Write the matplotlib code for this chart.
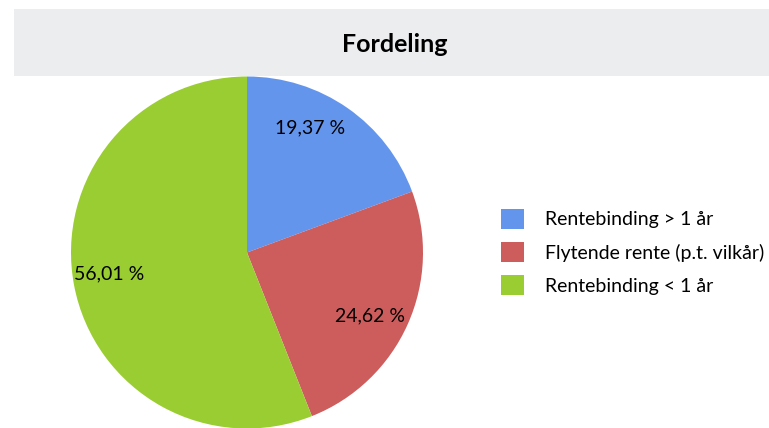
import matplotlib.pyplot as plt
from matplotlib.patches import Rectangle, Patch

categories = ["Rentebinding > 1 år", "Flytende rente (p.t. vilkår)", "Rentebinding < 1 år"]
shares = [19.37, 24.62, 56.01]
colors = ["#6495ED", "#CD5C5C", "#9ACD32"]
title = "Fordeling"

plt.rcParams["font.family"] = ["Lato", "DejaVu Sans"]

W, H = 769, 428
fig = plt.figure(figsize=(W / 100, H / 100), dpi=100)

# grey title band
fig.patches.append(Rectangle((14 / W, 1 - 76 / H), 1, 67 / H, transform=fig.transFigure,
                             facecolor="#ECEDEF", edgecolor="none", zorder=0))
fig.text(395 / W, 1 - 45 / H, title, ha="center", va="center",
         fontsize=18, fontweight="bold")

# pie: centre (247, 252.5) px, radius 176 px
cx, cy, r = 247, 252.5, 176
ax = fig.add_axes([(cx - r) / W, (H - cy - r) / H, 2 * r / W, 2 * r / H])
wedges, _, autotexts = ax.pie(
    shares, colors=colors, startangle=90, counterclock=False,
    autopct=lambda p: f"{p:.2f} %".replace(".", ","), pctdistance=0.8,
    textprops=dict(fontsize=14),
)
# small nudges to sit where the original labels are
nudges = [(-0.1, 0.05), (-0.03, -0.034), (0.0, 0.027)]
for t, (dx, dy) in zip(autotexts, nudges):
    x, y = t.get_position()
    t.set_position((x + dx, y + dy))
ax.set_xlim(-1, 1)
ax.set_ylim(-1, 1)
ax.set_aspect("equal")
ax.axis("off")

handles = [Patch(facecolor=c, edgecolor="none") for c in colors]
fig.legend(handles, categories, loc="upper left",
           bbox_to_anchor=(501 / W, 1 - 209 / H), frameon=False, fontsize=14,
           handlelength=1.18, handleheight=1.18, labelspacing=0.69,
           handletextpad=1.1, borderpad=0, borderaxespad=0)

fig.savefig("out.png", dpi=100)
